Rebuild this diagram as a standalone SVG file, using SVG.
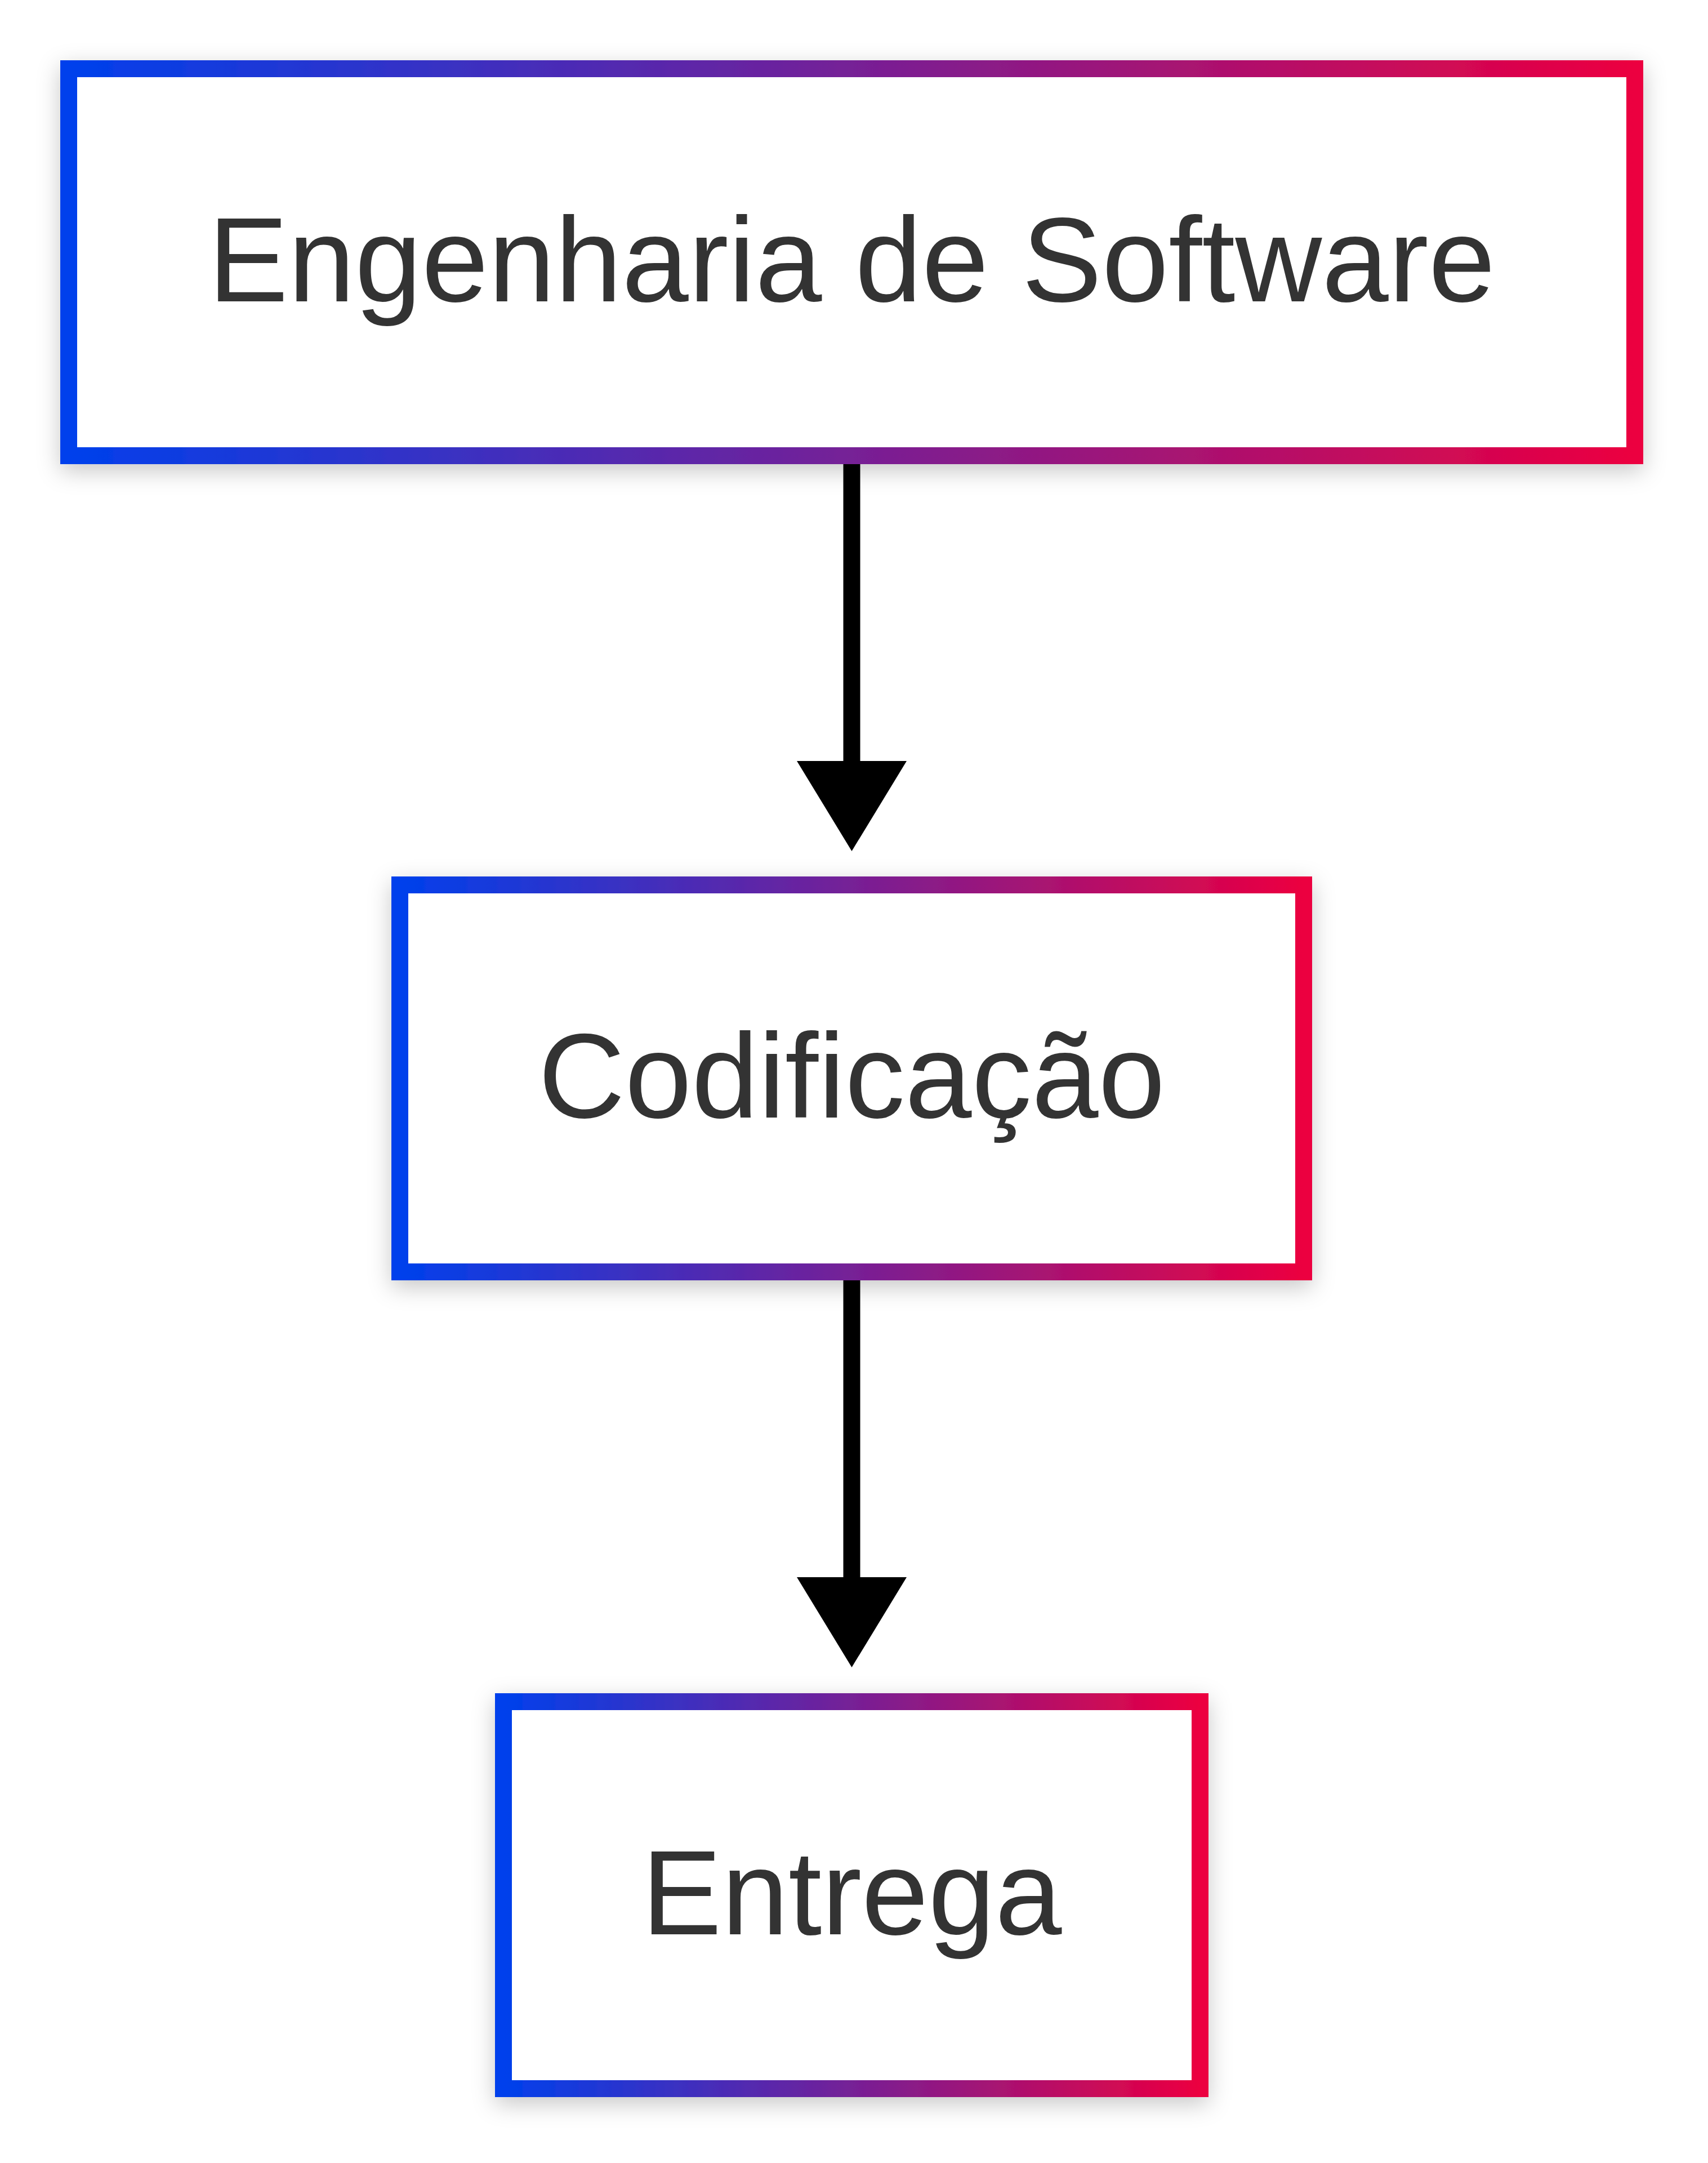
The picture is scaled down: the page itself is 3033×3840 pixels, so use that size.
<svg xmlns="http://www.w3.org/2000/svg" width="3033" height="3840" viewBox="0 0 3033 3840">
  <defs>
    <linearGradient id="grad" x1="0" y1="0" x2="1" y2="0">
      <stop offset="0" stop-color="#0040EC"/>
      <stop offset="1" stop-color="#EC0040"/>
    </linearGradient>
    <filter id="shadow" x="-10%" y="-25%" width="120%" height="160%">
      <feDropShadow dx="0" dy="12" stdDeviation="20" flood-color="#000000" flood-opacity="0.22"/>
    </filter>
    <marker id="arrow" markerUnits="userSpaceOnUse" viewBox="0 0 160 195" markerWidth="160" markerHeight="195" refX="0" refY="97.5" orient="auto">
      <path d="M0,0 L160,97.5 L0,195 Z" fill="#000000"/>
    </marker>
  </defs>
  <style>
    .box { fill: #ffffff; stroke: url(#grad); stroke-width: 30; filter: url(#shadow); }
    .label { font-family: "Liberation Sans", Arial, sans-serif; font-size: 213px; fill: #333333; text-anchor: middle; }
    .edge { stroke: #000000; stroke-width: 30; fill: none; marker-end: url(#arrow); }
  </style>
  <rect width="3033" height="3840" fill="#ffffff"/>
  <g id="connectors">
    <path class="edge" d="M1512.5,824 L1512.5,1351"/>
    <path class="edge" d="M1512.5,2273 L1512.5,2800"/>
  </g>
  <g id="node-engenharia">
    <rect class="box" x="122" y="122" width="2781" height="687"/>
    <text class="label" x="1512.5" y="535">Engenharia de Software</text>
  </g>
  <g id="node-codificacao">
    <rect class="box" x="710" y="1571" width="1605" height="687"/>
    <text class="label" x="1512.5" y="1984">Codificação</text>
  </g>
  <g id="node-entrega">
    <rect class="box" x="894" y="3021" width="1237" height="687"/>
    <text class="label" x="1512.5" y="3434">Entrega</text>
  </g>
</svg>
